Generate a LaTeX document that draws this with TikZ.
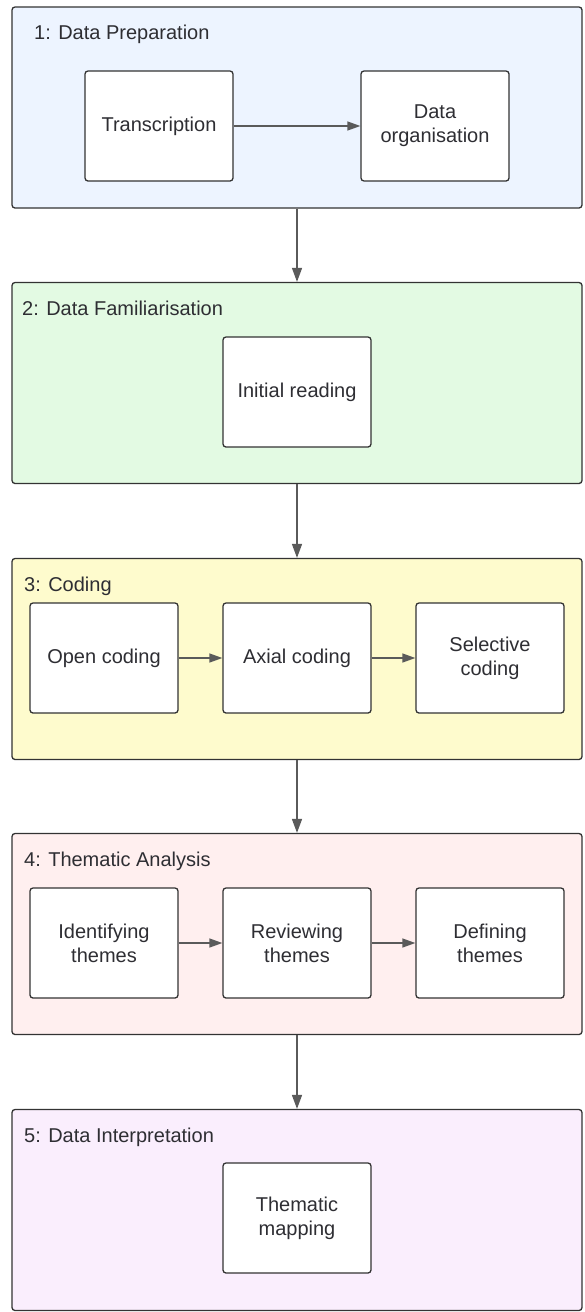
\documentclass[tikz,border=0pt]{standalone}
\usepackage{fontspec}
\setmainfont{Liberation Sans}
\usetikzlibrary{arrows.meta, positioning}

\definecolor{edgegray}{HTML}{333333}
\definecolor{arrowgray}{HTML}{5A5A5A}
\definecolor{textgray}{HTML}{2E2E33}
\definecolor{prepblue}{HTML}{EDF4FF}
\definecolor{famgreen}{HTML}{E3FAE3}
\definecolor{codeyellow}{HTML}{FEFBCD}
\definecolor{themepink}{HTML}{FFEFEF}
\definecolor{interpviolet}{HTML}{FAEEFD}

\tikzset{
  stage/.style={draw=edgegray, line width=1.3pt, rounded corners=3pt,
    minimum width=570pt, minimum height=201pt, inner sep=0pt},
  stagetitle/.style={anchor=base west, inner sep=0pt, text=textgray,
    font=\fontsize{20}{24}\selectfont},
  task/.style={draw=edgegray, fill=white, line width=1.3pt, rounded corners=3pt,
    minimum width=148pt, minimum height=110pt, align=center, text=textgray,
    font=\fontsize{20}{24}\selectfont},
  flow/.style={-{Triangle[length=14pt, width=10pt]}, draw=arrowgray, line width=1.5pt},
  link/.style={-{Triangle[length=13pt, width=9pt]}, draw=arrowgray, line width=1.3pt}
}

\begin{document}
\begin{tikzpicture}[x=1pt, y=-1pt]
  \useasboundingbox (0,0) rectangle (584,1312);

  % Stage panels
  \node[stage, fill=prepblue]     (prep)   at (297,107.5) {};
  \node[stage, fill=famgreen]     (fam)    at (297,383)   {};
  \node[stage, fill=codeyellow]   (coding) at (297,659)   {};
  \node[stage, fill=themepink]    (theme)  at (297,934)   {};
  \node[stage, fill=interpviolet] (interp) at (297,1210)  {};

  % Stage titles
  \node[stagetitle] (preptitle)   at (34,39)   {1: Data Preparation};
  \node[stagetitle] (famtitle)    at (22,315)  {2: Data Familiarisation};
  \node[stagetitle] (codingtitle) at (24,591)  {3: Coding};
  \node[stagetitle] (themetitle)  at (24,866)  {4: Thematic Analysis};
  \node[stagetitle] (interptitle) at (24,1142) {5: Data Interpretation};

  % Tasks
  \node[task] (transcr) at (159,126) {Transcription};
  \node[task] (organ)   at (435,126) {Data\\organisation};
  \node[task] (reading) at (297,392) {Initial reading};
  \node[task] (open)    at (104,658) {Open coding};
  \node[task] (axial)   at (297,658) {Axial coding};
  \node[task] (select)  at (490,658) {Selective\\coding};
  \node[task] (identif) at (104,943) {Identifying\\themes};
  \node[task] (review)  at (297,943) {Reviewing\\themes};
  \node[task] (define)  at (490,943) {Defining\\themes};
  \node[task] (mapping) at (297,1218) {Thematic\\mapping};

  % Links inside stages
  \draw[link] (transcr) -- (organ);
  \draw[link] (open) -- (axial);
  \draw[link] (axial) -- (select);
  \draw[link] (identif) -- (review);
  \draw[link] (review) -- (define);

  % Flow between stages
  \draw[flow] (prep.south) -- (fam.north);
  \draw[flow] (fam.south) -- (coding.north);
  \draw[flow] (coding.south) -- (theme.north);
  \draw[flow] (theme.south) -- (interp.north);
\end{tikzpicture}
\end{document}
